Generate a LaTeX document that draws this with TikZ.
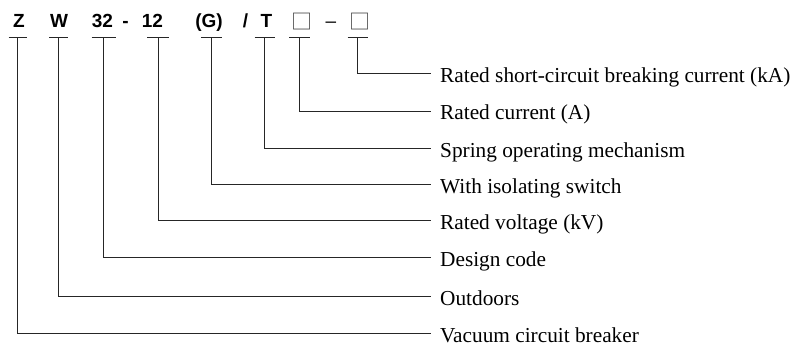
\documentclass[tikz,border=0pt]{standalone}
\usepackage{fontspec}
\setmainfont{Liberation Serif}
\newfontfamily\codefont{Liberation Sans}
\newfontfamily\boxfont{Noto Sans CJK SC}
\begin{document}
\begin{tikzpicture}[x=1pt,y=-1pt,
  code/.style={anchor=base,inner sep=0pt,font=\codefont\bfseries\fontsize{19}{19}\selectfont},
  codereg/.style={anchor=base,inner sep=0pt,font=\codefont\fontsize{19}{19}\selectfont},
  codebox/.style={anchor=base,inner sep=0pt,text=black!75,font=\boxfont\fontsize{21}{21}\selectfont},
  desc/.style={anchor=west,inner xsep=9pt,inner ysep=0pt,text height=18pt,text depth=0pt,font=\fontsize{21.3}{21.3}\selectfont},
  wire/.style={draw=black!85,line width=0.8pt}]
\useasboundingbox (0,0) rectangle (793,344);
% code letters
\node[code] (cZ) at (19,28) {Z};
\node[code] (cW) at (59,28) {W};
\node[code] (c32) at (102.5,28) {32};
\node[code] (ch) at (125.5,28) {-};
\node[code] (c12) at (152.5,28) {12};
\node[code] (cG) at (209,28) {(G)};
\node[code] (cs) at (245.5,28) {/};
\node[code] (cT) at (266.5,28) {T};
\node[codebox] (cA) at (302,30) {□};
\node[codereg] (cd) at (331,28) {–};
\node[codebox] (cK) at (359.5,30) {□};
% ticks
\foreach \n/\x/\w in {Z/17.7/9, W/58.7/9.5, 32/103.7/12, 12/158/11, G/211.3/10.5, T/264.7/10, A/299.7/10.5, K/357.7/10}{
  \coordinate (t\n) at (\x,37.5);
  \coordinate (t\n l) at (\x-\w,37.5);
  \coordinate (t\n r) at (\x+\w,37.5);
}
% descriptions
\node[desc] (dK) at (431,73.7) {Rated short-circuit breaking current (kA)};
\node[desc] (dA) at (431,111) {Rated current (A)};
\node[desc] (dT) at (431,148.3) {Spring operating mechanism};
\node[desc] (dG) at (431,184.3) {With isolating switch};
\node[desc] (d12) at (431,220.8) {Rated voltage (kV)};
\node[desc] (d32) at (431,257.3) {Design code};
\node[desc] (dW) at (431,296.3) {Outdoors};
\node[desc] (dZ) at (431,333.3) {Vacuum circuit breaker};
% connectors
\foreach \n in {Z,W,32,12,G,T,A,K}{
  \draw[wire] (t\n l) -- (t\n r);
  \draw[wire] (t\n) |- (d\n.west);
}
\end{tikzpicture}
\end{document}
